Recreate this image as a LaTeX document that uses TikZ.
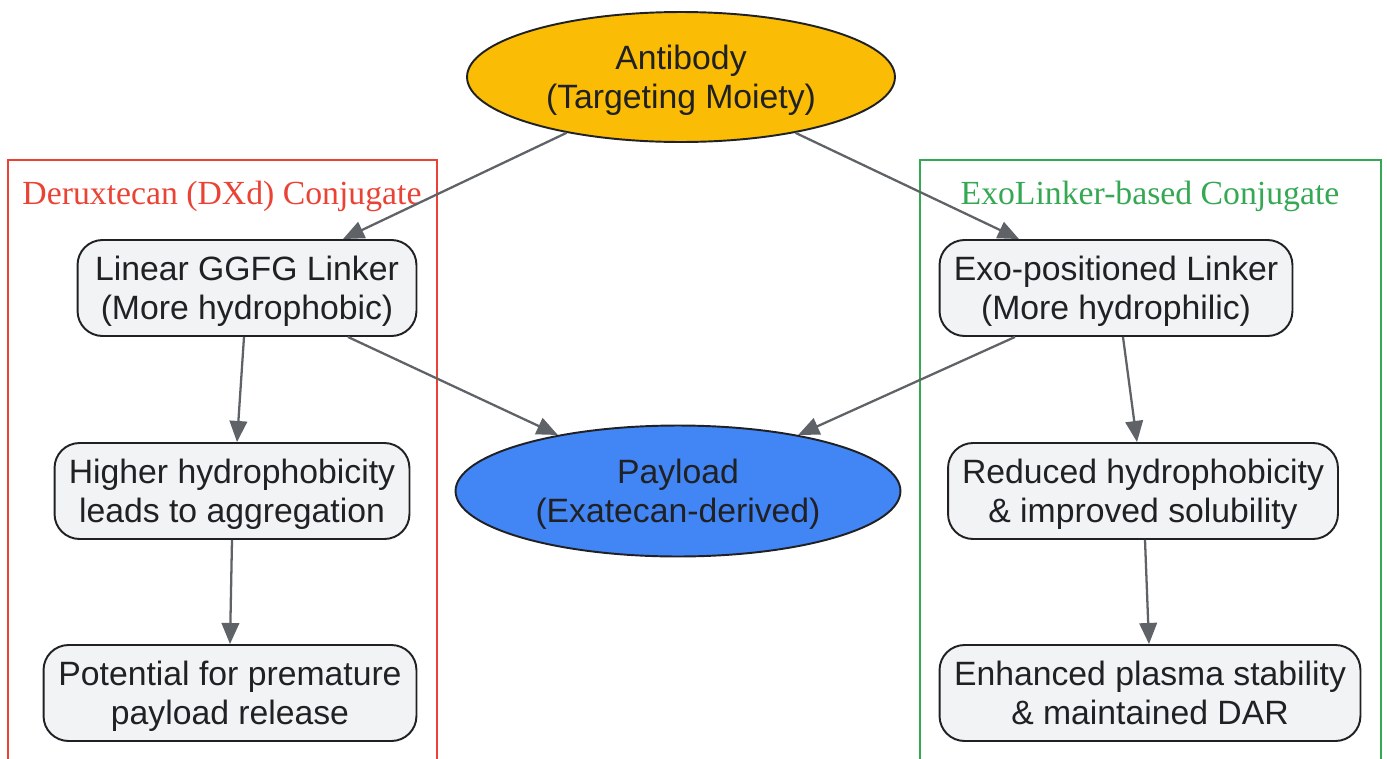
\documentclass[tikz,border=0pt]{standalone}
\usepackage{fontspec}
\setmainfont{Liberation Sans}
\newfontfamily\clusterfont{Liberation Serif}
\usetikzlibrary{shapes.geometric,arrows.meta}
\definecolor{abfill}{HTML}{FBBC05}
\definecolor{plfill}{HTML}{4285F4}
\definecolor{boxfill}{HTML}{F1F3F4}
\definecolor{inkdark}{HTML}{202124}
\definecolor{edgegray}{HTML}{5F6368}
\definecolor{dxdred}{HTML}{EA4335}
\definecolor{exogreen}{HTML}{34A853}
\begin{document}
\begin{tikzpicture}[
			x=0.02cm, y=-0.02cm,
			every node/.style={font=\fontsize{19.2}{22.2}\selectfont, text=inkdark, align=center, text depth=0pt},
			oval/.style={ellipse, draw=inkdark, line width=1.1pt, inner sep=0pt},
			stepbox/.style={rectangle, rounded corners=0.5cm, draw=inkdark, fill=boxfill, line width=1.1pt, minimum height=1.92cm},
			edge/.style={draw=edgegray, line width=1.3pt, -{Triangle[length=12pt,width=10pt]}},
			cluster/.style={line width=1.1pt},
			clusterlabel/.style={font=\clusterfont\fontsize{19.2}{22.2}\selectfont}
		]
		\clip (0,0) rectangle (1387,758);
		\draw[cluster, draw=dxdred] (8,160) rectangle (437,790);
		\draw[cluster, draw=exogreen] (920,160) rectangle (1381,790);
		\node[clusterlabel, text=dxdred] (dxdlabel) at (222,193) {Deruxtecan (DXd) Conjugate};
		\node[clusterlabel, text=exogreen] (exolabel) at (1150,193) {ExoLinker-based Conjugate};

		\node[oval, fill=abfill, minimum width=8.56cm, minimum height=2.6cm] (ab) at (681,77) {Antibody\\(Targeting Moiety)};
		\node[oval, fill=plfill, minimum width=8.9cm, minimum height=2.62cm] (pay) at (678,491) {Payload\\(Exatecan-derived)};

		\node[stepbox, minimum width=6.78cm] (lin) at (247,288) {Linear GGFG Linker\\(More hydrophobic)};
		\node[stepbox, minimum width=7.1cm] (hi) at (232,491) {Higher hydrophobicity\\leads to aggregation};
		\node[stepbox, minimum width=7.46cm] (pot) at (230,693) {Potential for premature\\payload release};

		\node[stepbox, minimum width=7.06cm] (exo) at (1116,288) {Exo-positioned Linker\\(More hydrophilic)};
		\node[stepbox, minimum width=7.8cm] (red) at (1143,491) {Reduced hydrophobicity\\\& improved solubility};
		\node[stepbox, minimum width=8.42cm] (enh) at (1150,693) {Enhanced plasma stability\\\& maintained DAR};

		\draw[edge] (ab.206) -- ([xshift=1.92cm]lin.north);
		\draw[edge] (ab.334) -- ([xshift=-1.94cm]exo.north);
		\draw[edge] ([xshift=-0.06cm]lin.south) -- ([xshift=0.1cm]hi.north);
		\draw[edge] (hi.south) -- (pot.north);
		\draw[edge] ([xshift=2.02cm]lin.south) -- (pay.155);
		\draw[edge] ([xshift=-2.02cm]exo.south) -- (pay.25);
		\draw[edge] ([xshift=0.14cm]exo.south) -- ([xshift=-0.12cm]red.north);
		\draw[edge] ([xshift=0.04cm]red.south) -- ([xshift=-0.02cm]enh.north);
	\end{tikzpicture}
\end{document}
